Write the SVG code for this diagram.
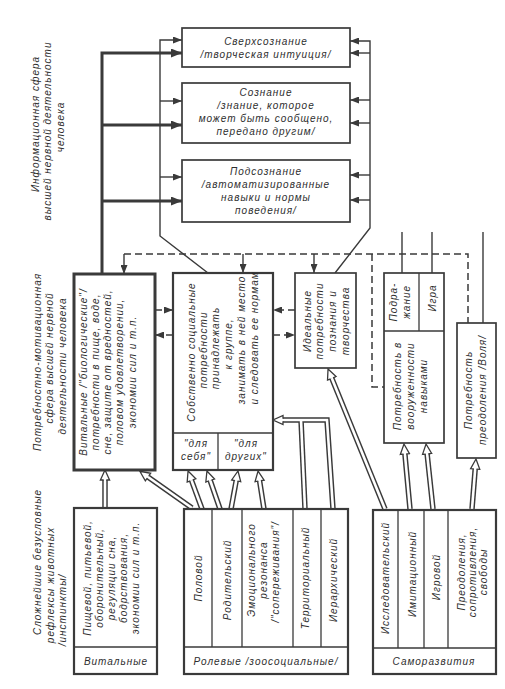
<svg xmlns="http://www.w3.org/2000/svg" width="505" height="689" viewBox="0 0 505 689">
<defs>
<style>
.bx{fill:#fff;stroke:#3a3a3a;stroke-width:1.7}
.bm{fill:#fff;stroke:#3a3a3a;stroke-width:2.2}
.bk{fill:#fff;stroke:#3a3a3a;stroke-width:3}
.dv{fill:none;stroke:#3a3a3a;stroke-width:1.3}
.ln{fill:none;stroke:#3a3a3a;stroke-width:1.4}
.tk{fill:none;stroke:#3a3a3a;stroke-width:3}
.ds{fill:none;stroke:#3a3a3a;stroke-width:1.5;stroke-dasharray:7 4}
.d1{fill:none;stroke:#3a3a3a;stroke-width:5.5}
.d2{fill:none;stroke:#fff;stroke-width:2.6}
text{font-family:"Liberation Sans",Arial,sans-serif;font-style:italic;font-size:10px;fill:#2e2e2e;letter-spacing:1px;text-anchor:middle}
</style>
<marker id="s" markerUnits="userSpaceOnUse" viewBox="0 -3.5 9 7" refX="9" refY="0" markerWidth="9" markerHeight="7" orient="auto"><path d="M0,-3.5 L9,0 L0,3.5 z" fill="#3a3a3a"/></marker>
<marker id="sk" markerUnits="userSpaceOnUse" viewBox="0 -4.5 11 9" refX="11" refY="0" markerWidth="11" markerHeight="9" orient="auto"><path d="M0,-4.5 L11,0 L0,4.5 z" fill="#3a3a3a"/></marker>
<marker id="h" markerUnits="userSpaceOnUse" viewBox="-1 -6 12 12" refX="0" refY="0" markerWidth="12" markerHeight="12" orient="auto"><path d="M0,-1.3 L0,-4.6 L10,0 L0,4.6 L0,1.3" fill="#fff" stroke="#3a3a3a" stroke-width="1.3"/></marker>
</defs>
<rect width="505" height="689" fill="#fff"/>

<g id="labels">
<text transform="translate(38.5,124) rotate(-90)">Информационная сфера</text>
<text transform="translate(50.5,131) rotate(-90)">высшей нервной деятельности</text>
<text transform="translate(63.5,127) rotate(-90)">человека</text>
<text transform="translate(40.5,362) rotate(-90)">Потребностно-мотивационная</text>
<text transform="translate(52.5,358) rotate(-90)">сфера высшей нервной</text>
<text transform="translate(65.5,366) rotate(-90)">деятельности человека</text>
<text transform="translate(40.5,562) rotate(-90)">Сложнейшие безусловные</text>
<text transform="translate(53.5,585) rotate(-90)">рефлексы животных</text>
<text transform="translate(65.5,610) rotate(-90)">/инстинкты/</text>
</g>

<g id="connectors">
<path class="tk" d="M102,274 L102,53 L182,53" marker-end="url(#sk)"/>
<path class="tk" d="M102,125 L182,125" marker-end="url(#sk)"/>
<path class="tk" d="M102,201 L182,201" marker-end="url(#sk)"/>
<path class="ln" d="M208,273 L160,236 L160,40 L182,40" marker-end="url(#s)"/>
<path class="ln" d="M160,101 L182,101" marker-end="url(#s)"/>
<path class="ln" d="M160,177 L182,177" marker-end="url(#s)"/>
<path class="ln" d="M335,273 L370,228 L370,41 L350,41" marker-end="url(#s)"/>
<path class="ln" d="M370,53 L350,53" marker-end="url(#s)"/>
<path class="ln" d="M370,100 L350,100" marker-end="url(#s)"/>
<path class="ln" d="M370,123 L350,123" marker-end="url(#s)"/>
<path class="ln" d="M370,175 L350,175" marker-end="url(#s)"/>
<path class="ln" d="M370,200 L350,200" marker-end="url(#s)"/>
<path class="ln" d="M402,273 L402,232"/>
<path class="ln" d="M432,273 L432,232"/>
<path class="ln" d="M483,323 L483,232"/>
<path class="ds" d="M124,254 L468,254 L468,323"/>
<path class="ds" d="M372,254 L372,387 L384,387"/>
<path class="ln" d="M124,254 L124,274" marker-end="url(#s)"/>
<path class="ln" d="M243,254 L243,273" marker-end="url(#s)"/>
<path class="ln" d="M314,254 L314,273" marker-end="url(#s)"/>
<path class="ds" d="M155,310 L173,310" marker-end="url(#s)"/>
<path class="ds" d="M173,335 L155,335" marker-end="url(#s)"/>
<path class="ds" d="M295,310 L273,310" marker-end="url(#s)"/>
<path class="ds" d="M273,335 L295,335" marker-end="url(#s)"/>

<path class="d1" d="M105,508 L105,480"/>
<path class="d1" d="M192,508 L148,477"/>
<path class="d1" d="M202,509 L191.5,480.4"/>
<path class="d1" d="M220,509 L210.2,480.5"/>
<path class="d1" d="M231,509 L236.2,480.8"/>
<path class="d1" d="M264,509 L259.6,480.9"/>
<path class="d1" d="M333,509 L327,420 L283,420"/>
<path class="d1" d="M305,509 L301,420"/>
<path class="d1" d="M385,509 L331.8,378.3"/>
<path class="d1" d="M410,509 L404.9,454"/>
<path class="d1" d="M433,509 L427.1,453.9"/>
<path class="d1" d="M472,509 L475.2,469"/>
<path class="d2" d="M105,508 L105,480" marker-end="url(#h)"/>
<path class="d2" d="M192,508 L148,477" marker-end="url(#h)"/>
<path class="d2" d="M202,509 L191.5,480.4" marker-end="url(#h)"/>
<path class="d2" d="M220,509 L210.2,480.5" marker-end="url(#h)"/>
<path class="d2" d="M231,509 L236.2,480.8" marker-end="url(#h)"/>
<path class="d2" d="M264,509 L259.6,480.9" marker-end="url(#h)"/>
<path class="d2" d="M333,509 L327,420 L283,420" marker-end="url(#h)"/>
<path class="d2" d="M305,509 L301,420"/>
<path class="d2" d="M385,509 L331.8,378.3" marker-end="url(#h)"/>
<path class="d2" d="M410,509 L404.9,454" marker-end="url(#h)"/>
<path class="d2" d="M433,509 L427.1,453.9" marker-end="url(#h)"/>
<path class="d2" d="M472,509 L475.2,469" marker-end="url(#h)"/>
</g>

<g id="superconscious">
<rect class="bx" x="182" y="28" width="168" height="39"/>
<text x="266" y="45">Сверхсознание</text>
<text x="266" y="58">/творческая интуиция/</text>
</g>
<g id="conscious">
<rect class="bx" x="182" y="83" width="168" height="60"/>
<text x="266" y="96">Сознание</text>
<text x="266" y="109">/знание, которое</text>
<text x="266" y="122">может быть сообщено,</text>
<text x="266" y="135">передано другим/</text>
</g>
<g id="subconscious">
<rect class="bx" x="182" y="160" width="168" height="62"/>
<text x="266" y="175">Подсознание</text>
<text x="266" y="188">/автоматизированные</text>
<text x="266" y="201">навыки и нормы</text>
<text x="266" y="214">поведения/</text>
</g>

<g id="vital-needs">
<rect class="bk" x="74" y="274" width="81" height="196"/>
<text transform="translate(86.5,372) rotate(-90)">Витальные /"биологические"/</text>
<text transform="translate(98.5,372) rotate(-90)">потребности в пище, воде,</text>
<text transform="translate(110.5,372) rotate(-90)">сне, защите от вредностей,</text>
<text transform="translate(122.5,372) rotate(-90)">половом удовлетворении,</text>
<text transform="translate(135.5,372) rotate(-90)">экономии сил и т.п.</text>
</g>
<g id="social-needs">
<rect class="bm" x="173" y="273" width="100" height="197"/>
<line class="dv" x1="173" y1="433" x2="273" y2="433"/>
<line class="dv" x1="218" y1="433" x2="218" y2="470"/>
<text transform="translate(194.5,352) rotate(-90)">Собственно социальные</text>
<text transform="translate(206.5,350) rotate(-90)">потребности</text>
<text transform="translate(218.5,348) rotate(-90)">принадлежать</text>
<text transform="translate(231.5,344) rotate(-90)">к группе,</text>
<text transform="translate(244.5,340) rotate(-90)">занимать в ней место</text>
<text transform="translate(257.5,338) rotate(-90)">и следовать ее нормам</text>
<text x="196" y="447">"для</text>
<text x="196" y="460">себя"</text>
<text x="246" y="447">"для</text>
<text x="246" y="460">других"</text>
</g>
<g id="ideal-needs">
<rect class="bx" x="295" y="273" width="61" height="95"/>
<text transform="translate(310.5,321) rotate(-90)">Идеальные</text>
<text transform="translate(322.5,321) rotate(-90)">потребности</text>
<text transform="translate(335.5,321) rotate(-90)">познания и</text>
<text transform="translate(348.5,321) rotate(-90)">творчества</text>
</g>
<g id="armament-need">
<rect class="bx" x="384" y="273" width="60" height="170"/>
<line class="dv" x1="384" y1="331" x2="444" y2="331"/>
<line class="dv" x1="419" y1="273" x2="419" y2="331"/>
<text transform="translate(396.5,302) rotate(-90)">Подра-</text>
<text transform="translate(409.5,302) rotate(-90)">жание</text>
<text transform="translate(435.5,298) rotate(-90)">Игра</text>
<text transform="translate(400.5,386) rotate(-90)">Потребность в</text>
<text transform="translate(413.5,386) rotate(-90)">вооруженности</text>
<text transform="translate(426.5,386) rotate(-90)">навыками</text>
</g>
<g id="will-need">
<rect class="bx" x="457" y="323" width="39" height="135"/>
<text transform="translate(471.5,390) rotate(-90)">Потребность</text>
<text transform="translate(485.5,390) rotate(-90)">преодоления /Воля/</text>
</g>

<g id="vital-reflexes">
<rect class="bm" x="74" y="508" width="83" height="166"/>
<line class="dv" x1="74" y1="647" x2="157" y2="647"/>
<text transform="translate(90.5,578) rotate(-90)">Пищевой, питьевой,</text>
<text transform="translate(102.5,578) rotate(-90)">оборонительный,</text>
<text transform="translate(114.5,578) rotate(-90)">регуляции сна,</text>
<text transform="translate(126.5,578) rotate(-90)">бодрствования,</text>
<text transform="translate(138.5,578) rotate(-90)">экономии сил и т.п.</text>
<text x="116" y="665">Витальные</text>
</g>
<g id="role-reflexes">
<rect class="bm" x="184" y="509" width="164" height="165"/>
<line class="dv" x1="184" y1="647" x2="348" y2="647"/>
<line class="dv" x1="212" y1="509" x2="212" y2="647"/>
<line class="dv" x1="242" y1="509" x2="242" y2="647"/>
<line class="dv" x1="293" y1="509" x2="293" y2="647"/>
<line class="dv" x1="321" y1="509" x2="321" y2="647"/>
<text transform="translate(201.5,578) rotate(-90)">Половой</text>
<text transform="translate(230.5,580) rotate(-90)">Родительский</text>
<text transform="translate(254.5,570) rotate(-90)">Эмоционального</text>
<text transform="translate(266.5,570) rotate(-90)">резонанса</text>
<text transform="translate(278.5,572) rotate(-90)">/"сопереживания"/</text>
<text transform="translate(308.5,578) rotate(-90)">Территориальный</text>
<text transform="translate(336.5,580) rotate(-90)">Иерархический</text>
<text x="266" y="665">Ролевые /зоосоциальные/</text>
</g>
<g id="self-development">
<rect class="bm" x="373" y="510" width="123" height="164"/>
<line class="dv" x1="373" y1="648" x2="496" y2="648"/>
<line class="dv" x1="398" y1="510" x2="398" y2="648"/>
<line class="dv" x1="424" y1="510" x2="424" y2="648"/>
<line class="dv" x1="448" y1="510" x2="448" y2="648"/>
<text transform="translate(388.5,578) rotate(-90)">Исследовательский</text>
<text transform="translate(415.5,574) rotate(-90)">Имитационный</text>
<text transform="translate(439.5,577) rotate(-90)">Игровой</text>
<text transform="translate(464.5,572) rotate(-90)">Преодоления,</text>
<text transform="translate(475.5,572) rotate(-90)">сопротивления,</text>
<text transform="translate(486.5,572) rotate(-90)">свободы</text>
<text x="434" y="665">Саморазвития</text>
</g>
</svg>
